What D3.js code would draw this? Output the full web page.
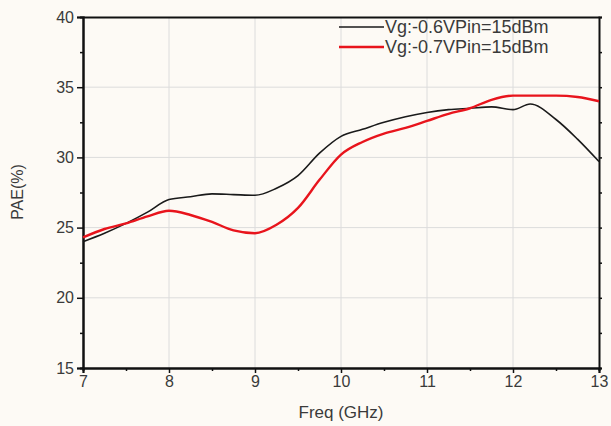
<!DOCTYPE html>
<html>
<head>
<meta charset="utf-8">
<script src="https://cdn.jsdelivr.net/npm/d3@7"></script>
<style>
  body { margin: 0; background: #fdfaf5; }
  svg { display: block; font-family: "Liberation Sans", Arial, sans-serif; }
</style>
</head>
<body>
<script>
// frequency points (GHz)
const freq_black = [7, 7.25, 7.5, 7.75, 8, 8.25, 8.5, 8.75, 9, 9.25, 9.5, 9.75, 10, 10.25, 10.5, 10.75, 11, 11.25, 11.5, 11.75, 12, 12.2, 12.5, 12.75, 13]
const pae_black = [24.0, 24.6, 25.3, 26.1, 27.0, 27.2, 27.4, 27.35, 27.3, 27.8, 28.7, 30.3, 31.5, 32.0, 32.5, 32.9, 33.2, 33.4, 33.5, 33.6, 33.4, 33.8, 32.7, 31.3, 29.7]

const freq_red = [7, 7.25, 7.5, 7.75, 8, 8.25, 8.5, 8.75, 9, 9.25, 9.5, 9.75, 10, 10.25, 10.5, 10.75, 11, 11.25, 11.5, 11.75, 12, 12.25, 12.5, 12.75, 13]
const pae_red = [24.3, 24.9, 25.3, 25.8, 26.2, 25.9, 25.4, 24.8, 24.6, 25.2, 26.4, 28.4, 30.2, 31.1, 31.7, 32.1, 32.6, 33.1, 33.5, 34.1, 34.4, 34.4, 34.4, 34.3, 34.0]

const series_names = ['Vg:-0.6VPin=15dBm', 'Vg:-0.7VPin=15dBm']
const x_ticks = [7, 8, 9, 10, 11, 12, 13]
const y_ticks = [15, 20, 25, 30, 35, 40]

let W = 611, H = 426
let margin = {top: 17, right: 12, bottom: 58, left: 83},
    width = W - margin.left - margin.right,
    height = H - margin.top - margin.bottom

let svg = d3.select('body').append('svg')
    .attr('width', W)
    .attr('height', H)

let g = svg.append('g')
    .attr('transform', `translate(${margin.left},${margin.top})`)

let x_scale = d3.scaleLinear().domain([7, 13]).range([0, width])
let y_scale = d3.scaleLinear().domain([15, 40]).range([height, 0])

// grid
g.append('g')
    .selectAll('line')
    .data(x_ticks.slice(1, -1))
    .enter().append('line')
    .attr('x1', d => x_scale(d)).attr('x2', d => x_scale(d))
    .attr('y1', 0).attr('y2', height)
    .attr('stroke', '#dcdcdc').attr('stroke-width', 1)

g.append('g')
    .selectAll('line')
    .data(y_ticks.slice(1, -1))
    .enter().append('line')
    .attr('y1', d => y_scale(d)).attr('y2', d => y_scale(d))
    .attr('x1', 0).attr('x2', width)
    .attr('stroke', '#dcdcdc').attr('stroke-width', 1)

// axes
let x_axis = g.append('g')
    .attr('transform', `translate(0,${height})`)
    .call(d3.axisBottom(x_scale).tickValues(x_ticks).tickSize(5).tickPadding(3).tickFormat(d3.format('d')))
let x_minor = g.append('g')
    .attr('transform', `translate(0,${height})`)
    .call(d3.axisBottom(x_scale).tickValues(d3.range(7.5, 13, 1)).tickSize(3).tickFormat(''))

let y_axis = g.append('g')
    .call(d3.axisLeft(y_scale).tickValues(y_ticks).tickSize(6).tickPadding(3))
let y_minor = g.append('g')
    .call(d3.axisLeft(y_scale).tickValues(d3.range(17.5, 40, 5)).tickSize(3).tickFormat(''))

let y_right = g.append('g')
    .attr('transform', `translate(${width},0)`)
    .call(d3.axisRight(y_scale).tickValues(d3.range(15, 40.1, 2.5)).tickSize(3).tickFormat(''))

let x_top = g.append('g')
    .call(d3.axisTop(x_scale).tickValues(d3.range(7, 13.1, 0.5)).tickSize(0).tickFormat(''))

;[x_axis, x_minor, y_axis, y_minor, y_right, x_top].forEach(a => {
    a.select('.domain').attr('stroke', '#111').attr('stroke-width', 2)
    a.selectAll('.tick line').attr('stroke', '#111').attr('stroke-width', 1.5)
    a.selectAll('.tick text').attr('fill', '#3a3a3a').style('font-size', '16px')
})

// lines
let line = d3.line()
    .x(d => x_scale(d[0]))
    .y(d => y_scale(d[1]))
    .curve(d3.curveMonotoneX)

let black_data = freq_black.map((f, i) => [f, pae_black[i]])
let red_data = freq_red.map((f, i) => [f, pae_red[i]])

g.append('path')
    .datum(black_data)
    .attr('d', line)
    .attr('fill', 'none')
    .attr('stroke', '#1a1a1a')
    .attr('stroke-width', 1.6)

g.append('path')
    .datum(red_data)
    .attr('d', line)
    .attr('fill', 'none')
    .attr('stroke', '#e8141c')
    .attr('stroke-width', 2.4)

// legend
let legend = svg.append('g')
let leg_colors = ['#1a1a1a', '#e8141c']
let leg_widths = [1.6, 2.6]
series_names.forEach((name, i) => {
    let y = 27 + i * 20
    legend.append('line')
        .attr('x1', 339).attr('x2', 384)
        .attr('y1', y).attr('y2', y)
        .attr('stroke', leg_colors[i])
        .attr('stroke-width', leg_widths[i])
    legend.append('text')
        .attr('x', 385).attr('y', y + 6)
        .attr('fill', '#3a3a3a')
        .style('font-size', '18px')
        .text(name)
})

// axis titles
svg.append('text')
    .attr('x', margin.left + width / 2)
    .attr('y', 418)
    .attr('text-anchor', 'middle')
    .attr('fill', '#3a3a3a')
    .style('font-size', '17px')
    .text('Freq (GHz)')

svg.append('text')
    .attr('transform', `translate(23, ${margin.top + 175}) rotate(-90)`)
    .attr('text-anchor', 'middle')
    .attr('fill', '#3a3a3a')
    .style('font-size', '16px')
    .text('PAE(%)')
</script>
</body>
</html>
